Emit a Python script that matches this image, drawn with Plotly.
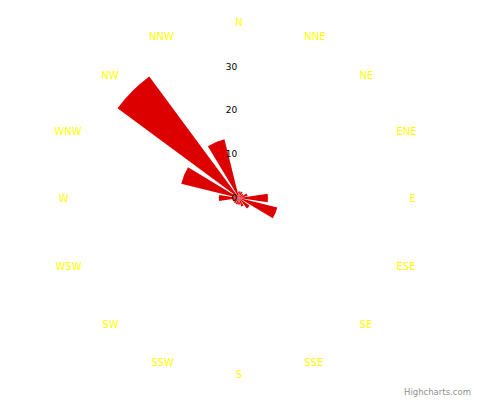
import plotly.graph_objects as go

# wind directions and frequencies
directions = ["N", "NNE", "NE", "ENE", "E", "ESE", "SE", "SSE",
              "S", "SSW", "SW", "WSW", "W", "WNW", "NW", "NNW"]
frequency = [1.5, 1.5, 1.2, 2.0, 6.6, 9.0, 3.0, 2.0,
             1.5, 1.5, 1.5, 1.5, 4.6, 13.6, 34.5, 13.8]
radial_ticks = [0, 10, 20, 30]

fig = go.Figure()
fig.add_trace(go.Barpolar(
    r=frequency,
    theta=directions,
    width=0.76,
    marker=dict(color="#dd0000", line=dict(width=0)),
    showlegend=False,
))

# pane: centre at (239, 198) px, radius ~170 px
fig.update_layout(
    width=480, height=400,
    margin=dict(l=0, r=0, t=0, b=0),
    paper_bgcolor="white",
    font=dict(family="DejaVu Sans", size=10),
    polar=dict(
        domain=dict(x=[0.144, 0.852], y=[0.080, 0.930]),
        bgcolor="white",
        radialaxis=dict(
            range=[0, 38.8], angle=90, tickvals=radial_ticks,
            tickangle=90, side="counterclockwise",
            showgrid=False, showline=False, ticks="",
            tickfont=dict(size=9, color="black"),
        ),
        angularaxis=dict(
            type="category", categoryarray=directions,
            direction="clockwise", rotation=90,
            showgrid=False, showline=False, ticks="",
            tickfont=dict(size=10, color="#ffff00"),
        ),
    ),
)

fig.add_annotation(
    text="Highcharts.com", xref="paper", yref="paper",
    x=1, y=0, xanchor="right", yanchor="bottom",
    xshift=-7, yshift=1, showarrow=False,
    font=dict(size=8.5, color="#909090"),
)

fig.write_html("out.html", config={"displayModeBar": False},
               post_script="document.body.style.margin='0px';")
